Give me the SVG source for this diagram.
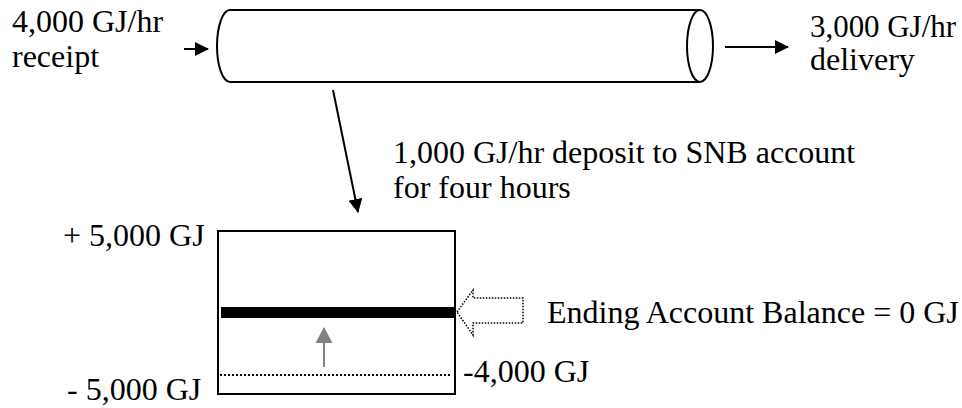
<svg xmlns="http://www.w3.org/2000/svg" width="962" height="408" viewBox="0 0 962 408">
<style>
text{font-family:"Liberation Serif","Times New Roman",serif;font-size:32px;fill:#000}
.ln{stroke:#000;stroke-width:2;fill:none}
.dot{stroke:#000;stroke-width:1.5;fill:none;stroke-dasharray:1.5 1.5}
</style>
<defs>
<marker id="ah" markerWidth="14" markerHeight="14" refX="13" refY="7" orient="auto" markerUnits="userSpaceOnUse">
<path d="M0,0 L14,7 L0,14 Z" fill="#000"/>
</marker>
<marker id="ahg" markerWidth="17" markerHeight="16" refX="15" refY="8.5" orient="auto" markerUnits="userSpaceOnUse">
<path d="M0,0 L16,8.5 L0,17 Z" fill="#808080"/>
</marker>
</defs>
<rect width="962" height="408" fill="#fff"/>
<g id="pipe">
<path class="ln" d="M230,10 L700,10 M230,82 L700,82 M230,10 A13,36 0 0 0 230,82" fill="#fff"/>
<ellipse class="ln" cx="700" cy="46" rx="13" ry="36" fill="#fff"/>
</g>
<g id="receipt">
<text x="12" y="32">4,000 GJ/hr</text>
<text x="12" y="67">receipt</text>
</g>
<g id="delivery">
<text x="810" y="37" textLength="146" lengthAdjust="spacingAndGlyphs">3,000 GJ/hr</text>
<text x="810" y="70">delivery</text>
</g>
<g id="deposit-label">
<text x="393" y="163">1,000 GJ/hr deposit to SNB account</text>
<text x="393" y="198">for four hours</text>
</g>
<g id="account">
<rect class="ln" x="218" y="231" width="237" height="163"/>
<rect x="221" y="307" width="234" height="11" fill="#000"/>
<line x1="220" y1="375" x2="452" y2="375" stroke="#000" stroke-width="2" stroke-dasharray="2 2"/>
<text x="63" y="246">+ 5,000 GJ</text>
<text x="67" y="400">- 5,000 GJ</text>
<text x="463" y="382">-4,000 GJ</text>
</g>
<g id="balance">
<polygon class="dot" points="457,312 473,290 473,298 523,298 523,323 473,323 473,335"/>
<text x="547" y="323">Ending Account Balance = 0 GJ</text>
</g>
<g id="connectors">
<line x1="184" y1="49" x2="208" y2="49" stroke="#000" stroke-width="2" marker-end="url(#ah)"/>
<line x1="725" y1="47" x2="788" y2="47" stroke="#000" stroke-width="2" marker-end="url(#ah)"/>
<line x1="333" y1="90" x2="358" y2="212" stroke="#000" stroke-width="2" marker-end="url(#ah)"/>
<line x1="324" y1="367" x2="324" y2="328" stroke="#808080" stroke-width="2" marker-end="url(#ahg)"/>
</g>
</svg>
